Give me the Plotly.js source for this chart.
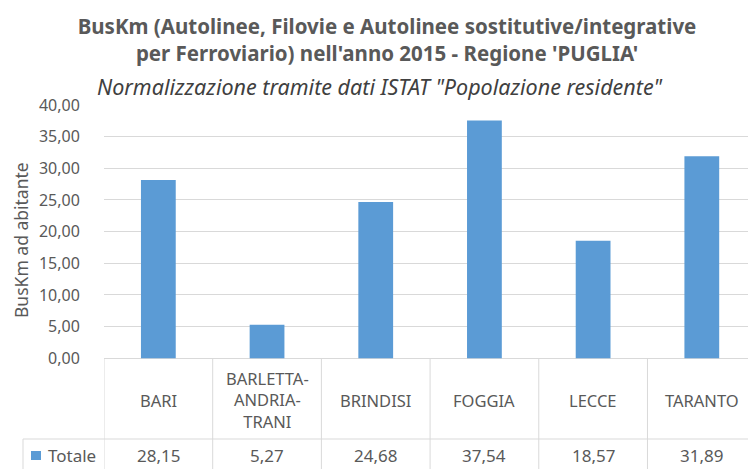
<!DOCTYPE html>
<html><head><meta charset="utf-8">
<script src="https://cdn.plot.ly/plotly-3.0.1.min.js"></script>
<style>html,body{margin:0;padding:0;background:#fff}#chart{width:748px;height:469px}</style>
</head><body><div id="chart"></div>
<script>
const categories = ['BARI', 'BARLETTA-ANDRIA-TRANI', 'BRINDISI', 'FOGGIA', 'LECCE', 'TARANTO'];
const seriesName = 'Totale';
const values = [28.15, 5.27, 24.68, 37.54, 18.57, 31.89];
const yTicks = [0, 5, 10, 15, 20, 25, 30, 35, 40];
const titleText = "BusKm (Autolinee, Filovie e Autolinee sostitutive/integrative<br>per Ferroviario) nell'anno 2015 - Regione 'PUGLIA'";
const subtitleText = 'Normalizzazione tramite dati ISTAT "Popolazione residente"';
const yTitle = 'BusKm ad abitante';

const barColor = '#5B9BD5';
const gridColor = '#d9d9d9';
const textColor = '#595959';
const FONT = 'Noto Sans, Open Sans, sans-serif';
const fmt = v => v.toFixed(2).replace('.', ',');

const W = 748, H = 469, L = 104, T = 105;
const plotW = W - L, plotH = H - T;
const px = x => (x - L) / plotW;       // container pixel x -> paper x
const py = y => (H - y) / plotH;       // container pixel y -> paper y

const idx = categories.map((c, i) => i);
const yLow = -17.5;      // table area below zero
const labelY = -6.6;
const valueY = -15.3;

const shapes = [];
for (let i = 0; i <= categories.length; i++) {
  shapes.push({type: 'line', xref: 'x', yref: 'y', x0: i - 0.5, x1: i - 0.5, y0: 0, y1: yLow,
    line: {color: gridColor, width: 1}});
}
shapes.push({type: 'line', xref: 'paper', yref: 'paper', x0: px(23), x1: 1, y0: py(439), y1: py(439),
  line: {color: gridColor, width: 1}});
shapes.push({type: 'line', xref: 'paper', yref: 'paper', x0: px(23), x1: px(23), y0: 0, y1: py(439),
  line: {color: gridColor, width: 1}});
shapes.push({type: 'rect', xref: 'paper', yref: 'paper', x0: px(31), x1: px(41), y0: py(460), y1: py(451),
  fillcolor: barColor, line: {width: 0}});

const annotations = [];
categories.forEach((c, i) => {
  annotations.push({xref: 'x', yref: 'y', x: i, y: labelY, text: c.replace(/-/g, '-<br>'),
    showarrow: false, font: {family: FONT, size: 16.5, color: textColor}, align: 'center'});
  annotations.push({xref: 'x', yref: 'y', x: i, y: valueY, text: fmt(values[i]),
    showarrow: false, font: {family: FONT, size: 17, color: textColor}});
});
annotations.push({xref: 'paper', yref: 'y', x: px(46), xanchor: 'left', y: valueY, text: seriesName,
  showarrow: false, font: {family: FONT, size: 17, color: textColor}});
annotations.push({xref: 'paper', yref: 'paper', x: px(379), y: py(87), xanchor: 'center', yanchor: 'middle',
  text: '<i>' + subtitleText + '</i>', showarrow: false, font: {family: FONT, size: 21.5, color: '#404040'}});
annotations.push({xref: 'paper', yref: 'paper', x: px(21), y: py(240), xanchor: 'center', yanchor: 'middle',
  text: yTitle, textangle: -90, showarrow: false, font: {family: FONT, size: 17.5, color: textColor}});

const trace = {
  type: 'bar', x: idx, y: values, name: seriesName,
  marker: {color: barColor}, width: 0.32, hoverinfo: 'skip'
};

const layout = {
  width: W, height: H,
  margin: {l: L, r: 0, t: T, b: 0, pad: 0},
  paper_bgcolor: '#fff', plot_bgcolor: '#fff',
  separators: ',.',
  showlegend: false,
  font: {family: FONT, color: textColor},
  title: {text: '<b>' + titleText + '</b>', xref: 'container', x: 387 / W, xanchor: 'center',
    yref: 'container', y: 1 - 34 / H, yanchor: 'middle',
    font: {family: FONT, size: 20.5, color: textColor}},
  xaxis: {range: [-0.5, 5.425], showticklabels: false, ticks: '', showgrid: false, zeroline: false,
    showline: false, fixedrange: true},
  yaxis: {range: [yLow, 40], tickvals: yTicks, tickformat: '.2f', showgrid: true, gridcolor: gridColor,
    gridwidth: 1, zeroline: false, showline: false, ticks: 'outside', ticklen: 20,
    tickcolor: 'rgba(0,0,0,0)', tickfont: {family: FONT, size: 16, color: textColor}, fixedrange: true},
  shapes: shapes,
  annotations: annotations
};

Plotly.newPlot('chart', [trace], layout, {displayModeBar: false, staticPlot: true});
</script></body></html>
